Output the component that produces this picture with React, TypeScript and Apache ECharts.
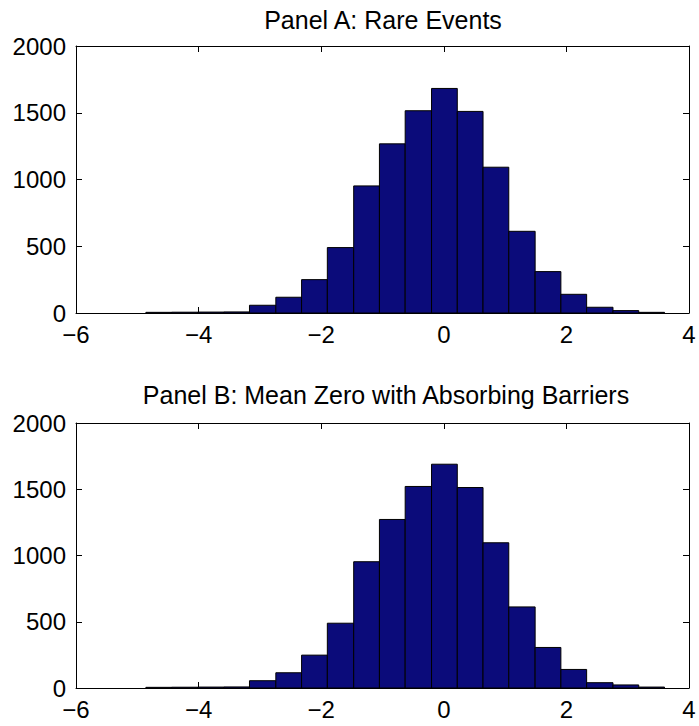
import React, { useEffect, useRef } from "react";
import * as echarts from "echarts";

const binEdges = [-4.86, -4.44, -4.01, -3.59, -3.17, -2.74, -2.32, -1.9, -1.47, -1.05, -0.63, -0.2, 0.22, 0.64, 1.06, 1.49, 1.91, 2.33, 2.76, 3.18, 3.6];
const countsA = [5, 6, 7, 8, 58, 118, 250, 490, 952, 1267, 1515, 1682, 1510, 1092, 612, 310, 140, 43, 18, 5];
const countsB = [5, 6, 7, 8, 55, 115, 248, 489, 953, 1272, 1521, 1689, 1513, 1096, 612, 306, 140, 40, 23, 7];
const xTicks = { min: -6, max: 4, interval: 2 };
const yTicks = { min: 0, max: 2000, interval: 500 };
const titles = ["Panel A: Rare Events", "Panel B: Mean Zero with Absorbing Barriers"];

const FONT = '"Liberation Sans", Arial, sans-serif';

function histData(counts: number[]) {
  return counts.map((c, i) => [binEdges[i], binEdges[i + 1], c]);
}

export default function App() {
  const ref = useRef<HTMLDivElement>(null);
  useEffect(() => {
    if (!ref.current) return;
    const chart = echarts.init(ref.current, null, { renderer: "svg" });
    const grids = [
      { left: 76, right: 10, top: 46, height: 267 },
      { left: 76, right: 10, top: 423, height: 265 },
    ];
    const fmt = (v: number) => String(v).replace("-", "\u2212");
    const line = { show: true, onZero: false, lineStyle: { color: "#000", width: 1 } };
    const tick = { show: true, inside: true, length: 6, lineStyle: { color: "#000" } };
    const xAxes: any[] = [];
    const yAxes: any[] = [];
    grids.forEach((_, gi) => {
      xAxes.push({
        type: "value", gridIndex: gi, position: "bottom", ...xTicks,
        axisLine: line, axisTick: tick,
        axisLabel: { show: true, margin: 9, fontSize: 24, fontFamily: FONT, color: "#000", formatter: fmt },
        splitLine: { show: false },
      });
      xAxes.push({
        type: "value", gridIndex: gi, position: "top", ...xTicks,
        axisLine: line, axisTick: tick,
        axisLabel: { show: false },
        splitLine: { show: false },
      });
      yAxes.push({
        type: "value", gridIndex: gi, position: "left", ...yTicks,
        axisLine: line, axisTick: tick,
        axisLabel: { show: true, margin: 10, fontSize: 24, fontFamily: FONT, color: "#000", formatter: (v: number) => String(v) },
        splitLine: { show: false },
      });
      yAxes.push({
        type: "value", gridIndex: gi, position: "right", ...yTicks,
        axisLine: line, axisTick: tick,
        axisLabel: { show: false },
        splitLine: { show: false },
      });
    });
    const mkSeries = (counts: number[], gi: number) => ({
      type: "custom",
      xAxisIndex: gi * 2,
      yAxisIndex: gi * 2,
      data: histData(counts),
      renderItem: (params: any, api: any) => {
        const p0 = api.coord([api.value(0), 0]);
        const p1 = api.coord([api.value(1), api.value(2)]);
        return {
          type: "rect",
          shape: { x: p0[0], y: p1[1], width: p1[0] - p0[0], height: p0[1] - p1[1] },
          style: { fill: "#0b0b7a", stroke: "#000", lineWidth: 1 },
        };
      },
    });
    chart.setOption({
      animation: false,
      backgroundColor: "#fff",
      grid: grids,
      xAxis: xAxes,
      yAxis: yAxes,
      series: [mkSeries(countsA, 0), mkSeries(countsB, 1)],
      graphic: [
        { type: "text", x: 383, y: 20, style: { text: titles[0], font: `25px ${FONT}`, fill: "#000", textAlign: "center", textVerticalAlign: "middle" } },
        { type: "text", x: 386, y: 395, style: { text: titles[1], font: `25px ${FONT}`, fill: "#000", textAlign: "center", textVerticalAlign: "middle" } },
      ],
    });
    return () => chart.dispose();
  }, []);
  return <div ref={ref} style={{ position: "fixed", left: 0, top: 0, width: 699, height: 726 }} />;
}
